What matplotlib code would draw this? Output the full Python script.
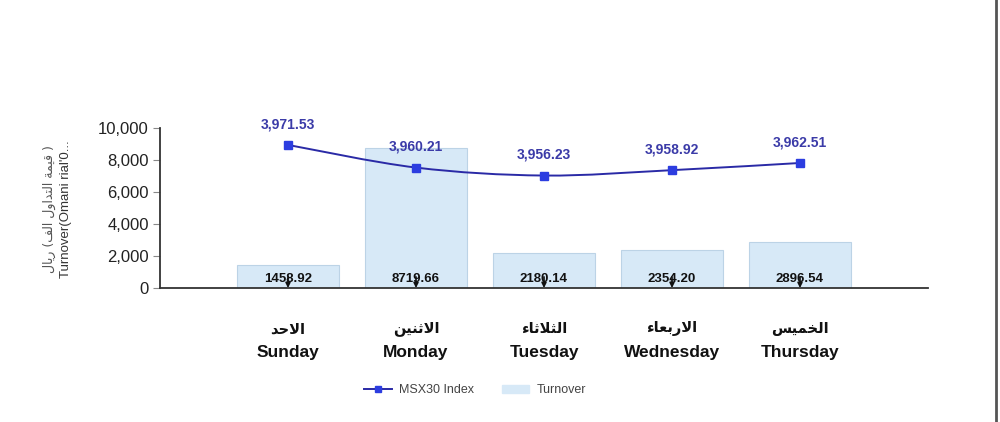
import numpy as np
import matplotlib
matplotlib.use("Agg")
import matplotlib.pyplot as plt
from matplotlib.path import Path
from matplotlib.patches import PathPatch
from matplotlib.lines import Line2D
from matplotlib.patches import Patch
from matplotlib.transforms import blended_transform_factory

plt.rcParams["font.family"] = ["Liberation Sans", "DejaVu Sans"]

# --- data ---
days_en = ["Sunday", "Monday", "Tuesday", "Wednesday", "Thursday"]
# Arabic day names in visual (shaped, left-to-right) order
days_ar = [
    "\uFEAA\uFEA3\uFEFB\uFE8D",                      # الاحد
    "\uFEE6\uFEF4\uFEE8\uFE9B\uFEFB\uFE8D",          # الاثنين
    "\uFE80\uFE8E\uFE9B\uFEFC\uFE9C\uFEDF\uFE8D",    # الثلاثاء
    "\uFE80\uFE8E\uFECC\uFE91\uFEAD\uFEFB\uFE8D",    # الاربعاء
    "\uFEB2\uFEF4\uFEE4\uFEA8\uFEDF\uFE8D",          # الخميس
]
turnover = [1458.92, 8719.66, 2180.14, 2354.20, 2896.54]
msx30 = [3971.53, 3960.21, 3956.23, 3958.92, 3962.51]

ylabel_ar = ("\uFEDD\uFE8E\uFEF3\uFEAD (\uFED2\uFEDF\uFE8D "
             "\uFEDD\uFEED\uFE8D\uFEAA\uFE98\uFEDF\uFE8D "
             "\uFE94\uFEE4\uFEF4\uFED7 )")
ylabel_en = "Turnover(Omani rial'0..."

BAR_COLOR = "#d7e9f7"
BAR_EDGE = "#bcd3e6"
LINE_COLOR = "#2a2aa6"
MARKER_COLOR = "#2c3de0"
LABEL_BLUE = "#3b3ba8"


def smooth_path(xs, ys):
    """Catmull-Rom style Bezier path through the points."""
    xs = np.asarray(xs, float)
    ys = np.asarray(ys, float)
    n = len(xs)
    verts = [(xs[0], ys[0])]
    codes = [Path.MOVETO]
    for i in range(n - 1):
        p0 = (xs[max(i - 1, 0)], ys[max(i - 1, 0)])
        p1 = (xs[i], ys[i])
        p2 = (xs[i + 1], ys[i + 1])
        p3 = (xs[min(i + 2, n - 1)], ys[min(i + 2, n - 1)])
        c1 = (p1[0] + (p2[0] - p0[0]) / 6, p1[1] + (p2[1] - p0[1]) / 6)
        c2 = (p2[0] - (p3[0] - p1[0]) / 6, p2[1] - (p3[1] - p1[1]) / 6)
        verts += [c1, c2, p2]
        codes += [Path.CURVE4] * 3
    return Path(verts, codes)


fig = plt.figure(figsize=(10, 4.22), dpi=100)
ax = fig.add_axes([0.16, 0.3175, 0.768, 0.3792])

x = np.arange(len(days_en))
ax.bar(x, turnover, width=0.8, color=BAR_COLOR, edgecolor=BAR_EDGE, linewidth=0.8, zorder=2)
ax.set_xlim(-1, len(days_en))
ax.set_ylim(0, 10000)
ax.set_yticks(np.arange(0, 10001, 2000))
ax.set_yticklabels([f"{v:,}" for v in range(0, 10001, 2000)])
ax.tick_params(axis="y", labelsize=12, colors="#888888", length=5, width=0.8, pad=3)
for lab in ax.get_yticklabels():
    lab.set_color("#222222")
ax.set_xticks(x)
ax.set_xticklabels([])
ax.tick_params(axis="x", length=0)

for s in ["top", "right"]:
    ax.spines[s].set_visible(False)
ax.spines["left"].set_color("#333333")
ax.spines["left"].set_linewidth(1.3)
ax.spines["bottom"].set_color("#333333")
ax.spines["bottom"].set_linewidth(1.3)
ax.spines["bottom"].set_zorder(5)

# bar value labels at bottom of bars, with the small down arrow at each category
for xi, v in zip(x, turnover):
    ax.text(xi, 560, f"{v:.2f}", ha="center", va="center", fontsize=9.5,
            fontweight="bold", color="#111111", zorder=4)
    ax.annotate("", xy=(xi, 0), xytext=(0, 8), textcoords="offset points",
                arrowprops=dict(arrowstyle="-|>", color="#111111", lw=1.2,
                                mutation_scale=7, shrinkA=0, shrinkB=0),
                zorder=6)

# category labels
trans = blended_transform_factory(ax.transData, ax.transAxes)
for xi, ar, en in zip(x, days_ar, days_en):
    ax.text(xi, -0.255, ar, transform=trans, ha="center", va="center",
            fontsize=10.5, fontweight="bold", family=["DejaVu Sans"], color="#111111")
    ax.text(xi, -0.40, en, transform=trans, ha="center", va="center",
            fontsize=12.5, fontweight="bold", color="#111111")

# index line on hidden secondary axis
ax2 = ax.twinx()
ax2.set_ylim(3900, 3980)
ax2.axis("off")
ax2.add_patch(PathPatch(smooth_path(x, msx30), facecolor="none",
                        edgecolor=LINE_COLOR, linewidth=1.4, zorder=3))
ax2.plot(x, msx30, linestyle="none", marker="s", markersize=5.5,
         color=MARKER_COLOR, zorder=4)
for xi, v in zip(x, msx30):
    ax2.annotate(f"{v:,.2f}", (xi, v), xytext=(0, 10), textcoords="offset points",
                 ha="center", va="bottom", fontsize=10, fontweight="bold",
                 color=LABEL_BLUE)

# y-axis titles
fig.text(0.049, 0.505, ylabel_ar, rotation=90, ha="center", va="center",
         fontsize=9, color="#555555", family=["DejaVu Sans"])
fig.text(0.066, 0.505, ylabel_en, rotation=90, ha="center", va="center",
         fontsize=9.5, color="#333333")

# legend
handles = [
    Line2D([0], [0], color=LINE_COLOR, lw=1.4, marker="s", markersize=5,
           markerfacecolor=MARKER_COLOR, markeredgecolor=MARKER_COLOR),
    Patch(facecolor=BAR_COLOR, edgecolor=BAR_COLOR),
]
fig.legend(handles, ["MSX30 Index", "Turnover"], loc="center",
           bbox_to_anchor=(0.475, 0.075), ncol=2, frameon=False, fontsize=9,
           labelcolor="#444444", handlelength=2.2, columnspacing=2.2,
           handletextpad=0.6)

# right border line of the original graphic
fig.add_artist(Line2D([0.996, 0.996], [0, 1], transform=fig.transFigure,
                      color="#555555", linewidth=2))

fig.savefig("out.png", dpi=100, facecolor="white")
